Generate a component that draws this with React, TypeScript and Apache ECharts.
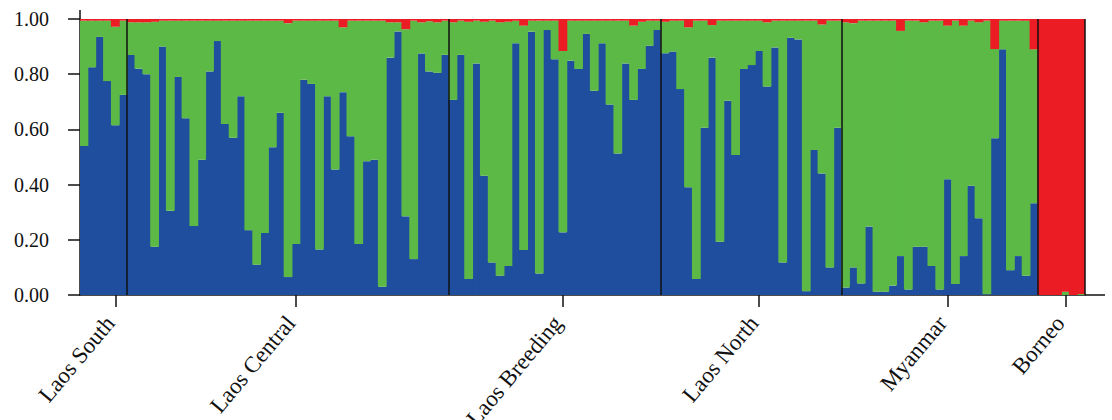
import React, { useEffect, useRef } from "react";
import * as echarts from "echarts";

const groupNames = ["Laos South", "Laos Central", "Laos Breeding", "Laos North", "Myanmar", "Borneo"];
// sample index (0-based) under which each group label sits
const groupLabelAt = [4, 27, 61, 86, 110, 125];

// cluster 1 (blue) membership per individual
const laosSouthBlue = [0.54, 0.825, 0.935, 0.775, 0.615, 0.725];
const laosCentralBlue = [0.87, 0.82, 0.8, 0.175, 0.9, 0.305, 0.79, 0.64, 0.25, 0.49, 0.81, 0.92, 0.62, 0.57, 0.72, 0.235, 0.11, 0.225, 0.535, 0.66, 0.065, 0.185, 0.78, 0.765, 0.165, 0.72, 0.455, 0.735, 0.575, 0.185, 0.485, 0.49, 0.03, 0.86, 0.955, 0.285, 0.13, 0.875, 0.81, 0.805, 0.87];
const laosBreedingBlue = [0.707, 0.87, 0.058, 0.839, 0.432, 0.118, 0.07, 0.105, 0.912, 0.163, 0.954, 0.078, 0.96, 0.854, 0.227, 0.849, 0.819, 0.946, 0.74, 0.912, 0.69, 0.513, 0.839, 0.707, 0.819, 0.903, 0.96];
const laosNorthBlue = [0.876, 0.882, 0.746, 0.39, 0.058, 0.606, 0.86, 0.193, 0.704, 0.507, 0.819, 0.833, 0.884, 0.755, 0.897, 0.118, 0.932, 0.926, 0.014, 0.525, 0.44, 0.1, 0.606];
const myanmarBlue = [0.027, 0.1, 0.042, 0.248, 0.012, 0.012, 0.034, 0.141, 0.02, 0.175, 0.175, 0.105, 0.02, 0.419, 0.04, 0.141, 0.396, 0.278, 0.003, 0.568, 0.89, 0.09, 0.141, 0.07, 0.332];
const borneoBlue = [0, 0, 0, 0, 0, 0];

// cluster 3 (red) membership per individual
const laosSouthRed = [0.006, 0.006, 0.006, 0.006, 0.028, 0.006];
const laosCentralRed = [0.012, 0.012, 0.012, 0.01, 0.006, 0.006, 0.006, 0.006, 0.006, 0.006, 0.006, 0.006, 0.006, 0.006, 0.006, 0.006, 0.006, 0.006, 0.006, 0.006, 0.015, 0.006, 0.006, 0.006, 0.006, 0.006, 0.006, 0.03, 0.006, 0.006, 0.006, 0.006, 0.006, 0.012, 0.012, 0.037, 0.006, 0.012, 0.008, 0.012, 0.006];
const laosBreedingRed = [0.012, 0.006, 0.01, 0.006, 0.01, 0.006, 0.012, 0.01, 0.006, 0.024, 0.006, 0.006, 0.006, 0.006, 0.116, 0.006, 0.006, 0.006, 0.006, 0.006, 0.006, 0.006, 0.006, 0.024, 0.01, 0.006, 0.006];
const laosNorthRed = [0.01, 0.006, 0.006, 0.03, 0.006, 0.006, 0.022, 0.006, 0.006, 0.006, 0.006, 0.006, 0.006, 0.012, 0.006, 0.006, 0.006, 0.006, 0.006, 0.006, 0.02, 0.006, 0.006];
const myanmarRed = [0.012, 0.015, 0.006, 0.006, 0.006, 0.006, 0.006, 0.043, 0.006, 0.006, 0.012, 0.006, 0.006, 0.024, 0.006, 0.024, 0.006, 0.012, 0.006, 0.109, 0.006, 0.006, 0.006, 0.006, 0.11];
const borneoRed = [1, 1, 1, 0.988, 1, 0.996];

const yTicks = [0, 0.2, 0.4, 0.6, 0.8, 1.0];

const blueGroups = [laosSouthBlue, laosCentralBlue, laosBreedingBlue, laosNorthBlue, myanmarBlue, borneoBlue];
const redGroups = [laosSouthRed, laosCentralRed, laosBreedingRed, laosNorthRed, myanmarRed, borneoRed];

const BLUE = "#1f4e9e";
const GREEN = "#5cb946";
const RED = "#ec1c24";

export default function App() {
  const ref = useRef<HTMLDivElement>(null);
  useEffect(() => {
    if (!ref.current) return;
    const chart = echarts.init(ref.current, undefined, { renderer: "svg" });
    const blue = blueGroups.flat();
    const red = redGroups.flat();
    const green = blue.map((b, i) => Math.max(0, +(1 - b - red[i]).toFixed(4)));
    const ids = blue.map((_, i) => String(i + 1));
    const bounds: number[] = [];
    let acc = 0;
    blueGroups.forEach((g) => {
      acc += g.length;
      bounds.push(acc);
    });
    const labelMap: Record<number, string> = {};
    groupLabelAt.forEach((idx, k) => (labelMap[idx] = groupNames[k]));
    const showAt = (i: number) => labelMap[i] !== undefined;

    const serif = "'Liberation Serif', 'Times New Roman', serif";
    const gridLeft = 80, gridTop = 19, gridRight = 27, gridBottom = 125;
    const barStyle = (c: string) => ({ color: c });

    chart.setOption({
      animation: false,
      grid: { left: gridLeft, right: gridRight, top: gridTop, bottom: gridBottom, containLabel: false, outerBoundsMode: "none" },
      xAxis: [
        {
          type: "category",
          data: ids,
          boundaryGap: true,
          axisLine: { show: true, lineStyle: { color: "#111", width: 1.5 } },
          axisTick: { show: true, alignWithLabel: true, interval: (i: number) => showAt(i), length: 12, lineStyle: { color: "#111", width: 1.5 } },
          axisLabel: {
            show: true,
            interval: (i: number) => showAt(i),
            formatter: (_v: string, i: number) => labelMap[i] ?? "",
            rotate: 50,
            margin: 18,
            padding: [0, 8, 0, 0],
            fontSize: 23,
            fontFamily: serif,
            color: "#111",
          },
          splitLine: { show: false },
        },
        { type: "value", min: 0, max: bounds[bounds.length - 1], show: false },
      ],
      yAxis: {
        type: "value",
        min: yTicks[0],
        max: yTicks[yTicks.length - 1],
        interval: 0.2,
        axisLine: { show: true, lineStyle: { color: "#111", width: 1.5 } },
        axisTick: { show: true, length: 12, lineStyle: { color: "#111", width: 1.5 } },
        axisLabel: { formatter: (v: number) => v.toFixed(2), margin: 31, fontSize: 20, fontFamily: serif, color: "#111" },
        splitLine: { show: false },
      },
      series: [
        { name: "Cluster 1", type: "bar", stack: "q", data: blue, barWidth: "112%", itemStyle: barStyle(BLUE), silent: true },
        { name: "Cluster 2", type: "bar", stack: "q", data: green, barWidth: "112%", itemStyle: barStyle(GREEN), silent: true },
        { name: "Cluster 3", type: "bar", stack: "q", data: red, barWidth: "112%", itemStyle: barStyle(RED), silent: true },
        {
          type: "scatter",
          xAxisIndex: 1,
          data: [],
          z: 10,
          markLine: {
            silent: true,
            symbol: ["none", "none"],
            label: { show: false },
            lineStyle: { color: "#111", width: 1.5, type: "solid" },
            data: bounds.map((b) => ({ xAxis: b })),
          },
        },
      ],
      graphic: [
        { type: "line", shape: { x1: gridLeft, y1: 10, x2: gridLeft, y2: gridTop }, style: { stroke: "#111", lineWidth: 1.5 } },
        { type: "line", shape: { x1: 1112 - gridRight, y1: 420 - gridBottom, x2: 1105, y2: 420 - gridBottom }, style: { stroke: "#111", lineWidth: 1.5 } },
      ],
    });
    return () => chart.dispose();
  }, []);
  return <div ref={ref} style={{ position: "absolute", left: 0, top: 0, width: 1112, height: 420, overflow: "hidden" }} />;
}
